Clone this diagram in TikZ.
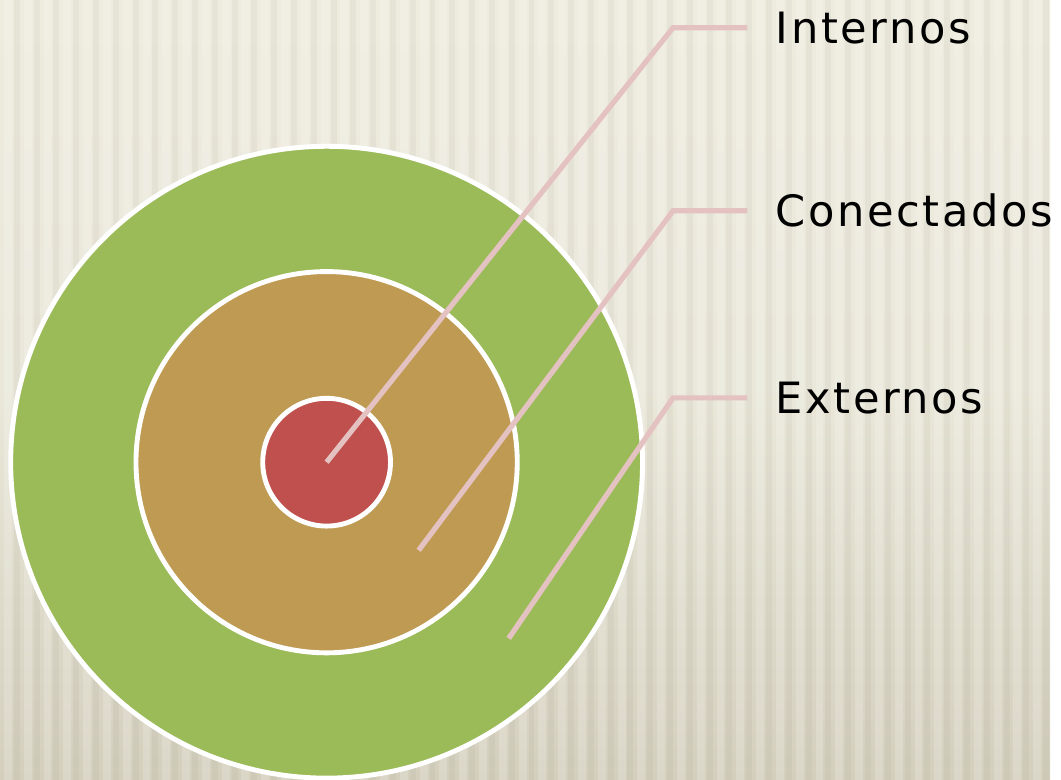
\documentclass[tikz,border=0pt]{standalone}
\usepackage{fontspec}
\setmainfont{DejaVu Sans}[LetterSpace=6]
\usetikzlibrary{positioning}
\definecolor{ringout}{HTML}{9BBB59}
\definecolor{ringmid}{HTML}{BF9A52}
\definecolor{ringin}{HTML}{C0504D}
\definecolor{callcol}{HTML}{E5C2C2}
\definecolor{bgtop}{HTML}{EEECDF}
\definecolor{bgbot}{HTML}{D4CFBD}
\tikzset{
  ring/.style={circle,draw=white,line width=1.4pt,inner sep=0pt},
  callout/.style={draw=callcol,line width=1.5pt},
  lab/.style={anchor=west,inner sep=0pt,xshift=8pt,font=\fontsize{12.4}{14}\selectfont}
}

\begin{document}
\begin{tikzpicture}[x=0.01cm,y=-0.01cm]
% background
\shade[top color=bgtop,bottom color=bgbot,middle color=bgtop!85!bgbot] (0,0) rectangle (1061,788);
\foreach \x in {4,24,...,1064}
  \fill[white,opacity=.18] (\x,0) rectangle ++(8,788);
\foreach \x in {14,34,...,1064}
  \fill[black!40!bgbot,opacity=.07] (\x,0) rectangle ++(6,788);
\useasboundingbox (0,0) rectangle (1061,788);

% rings
\node[ring,fill=ringout,minimum size=6.38cm] (outer) at (330,467) {};
\node[ring,fill=ringmid,minimum size=3.85cm] (middle) at (outer.center) {};
\node[ring,fill=ringin,minimum size=1.29cm] (inner) at (outer.center) {};

% labels
\node[lab] (internos) at (755,28) {Internos};
\node[lab] (conectados) at (755,213) {Conectados};
\node[lab] (externos) at (755,402) {Externos};

% callouts
\coordinate (pin1) at (330,467);
\coordinate (pin2) at (423,556);
\coordinate (pin3) at (514,645);
\coordinate (knee1) at (680,28);
\coordinate (knee2) at (680,213);
\coordinate (knee3) at (680,402);
\draw[callout] (pin1) -- (knee1) -- ([xshift=-8pt]internos.west);
\draw[callout] (pin2) -- (knee2) -- ([xshift=-8pt]conectados.west);
\draw[callout] (pin3) -- (knee3) -- ([xshift=-8pt]externos.west);
\end{tikzpicture}
\end{document}
